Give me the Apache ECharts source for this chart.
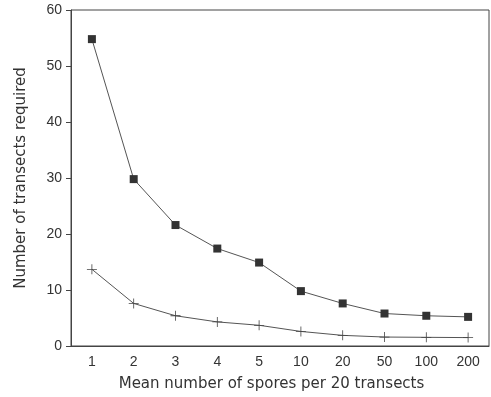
<!DOCTYPE html>
<html>
<head>
<meta charset="utf-8">
<script src="https://cdn.jsdelivr.net/npm/echarts@6/dist/echarts.min.js"></script>
<style>
  html, body { margin: 0; padding: 0; background: #fff; }
  #chart { width: 491px; height: 397px; }
</style>
</head>
<body>
<div id="chart"></div>
<script>
const categories = ['1', '2', '3', '4', '5', '10', '20', '50', '100', '200'];
const squareValues = [54.8, 29.8, 21.6, 17.4, 14.9, 9.8, 7.6, 5.8, 5.4, 5.2];
const plusValues = [13.7, 7.6, 5.4, 4.3, 3.7, 2.6, 1.9, 1.6, 1.55, 1.5];

const plusPath = 'path://M-0.08,-1L0.08,-1L0.08,-0.08L1,-0.08L1,0.08L0.08,0.08L0.08,1L-0.08,1L-0.08,0.08L-1,0.08L-1,-0.08L-0.08,-0.08Z';
const labelFont = 'Liberation Sans, Arial, sans-serif';
const nameFont = 'DejaVu Sans, sans-serif';

const myChart = echarts.init(document.getElementById('chart'));
myChart.setOption({
  animation: false,
  backgroundColor: '#fff',
  grid: {
    left: 71, top: 10, right: 2, bottom: 51,
    show: true, borderColor: '#444', borderWidth: 1, backgroundColor: 'transparent'
  },
  xAxis: {
    type: 'category',
    data: categories,
    boundaryGap: true,
    name: 'Mean number of spores per 20 transects',
    nameLocation: 'middle',
    nameGap: 31,
    nameTextStyle: { fontSize: 15, color: '#333', fontFamily: nameFont, padding: [0, 17, 0, 0] },
    axisLine: { lineStyle: { color: '#444', width: 1 } },
    axisTick: { alignWithLabel: true, length: 5, lineStyle: { color: '#444' } },
    axisLabel: { fontSize: 14, color: '#333', fontFamily: labelFont, margin: 9 },
    splitLine: { show: false }
  },
  yAxis: {
    type: 'value',
    min: 0, max: 60, interval: 10,
    name: 'Number of transects required',
    nameLocation: 'middle',
    nameGap: 42,
    nameTextStyle: { fontSize: 15, color: '#333', fontFamily: nameFont },
    axisLine: { show: true, lineStyle: { color: '#444', width: 1 } },
    axisTick: { show: true, length: 5, lineStyle: { color: '#444' } },
    axisLabel: { fontSize: 14, color: '#333', fontFamily: labelFont, margin: 9 },
    splitLine: { show: false }
  },
  series: [
    {
      type: 'line',
      data: squareValues,
      symbol: 'rect',
      symbolSize: 8,
      itemStyle: { color: '#333' },
      lineStyle: { color: '#555', width: 1 }
    },
    {
      type: 'line',
      data: plusValues,
      symbol: plusPath,
      symbolSize: 10,
      itemStyle: { color: '#444' },
      lineStyle: { color: '#555', width: 1 }
    }
  ]
});
</script>
</body>
</html>
